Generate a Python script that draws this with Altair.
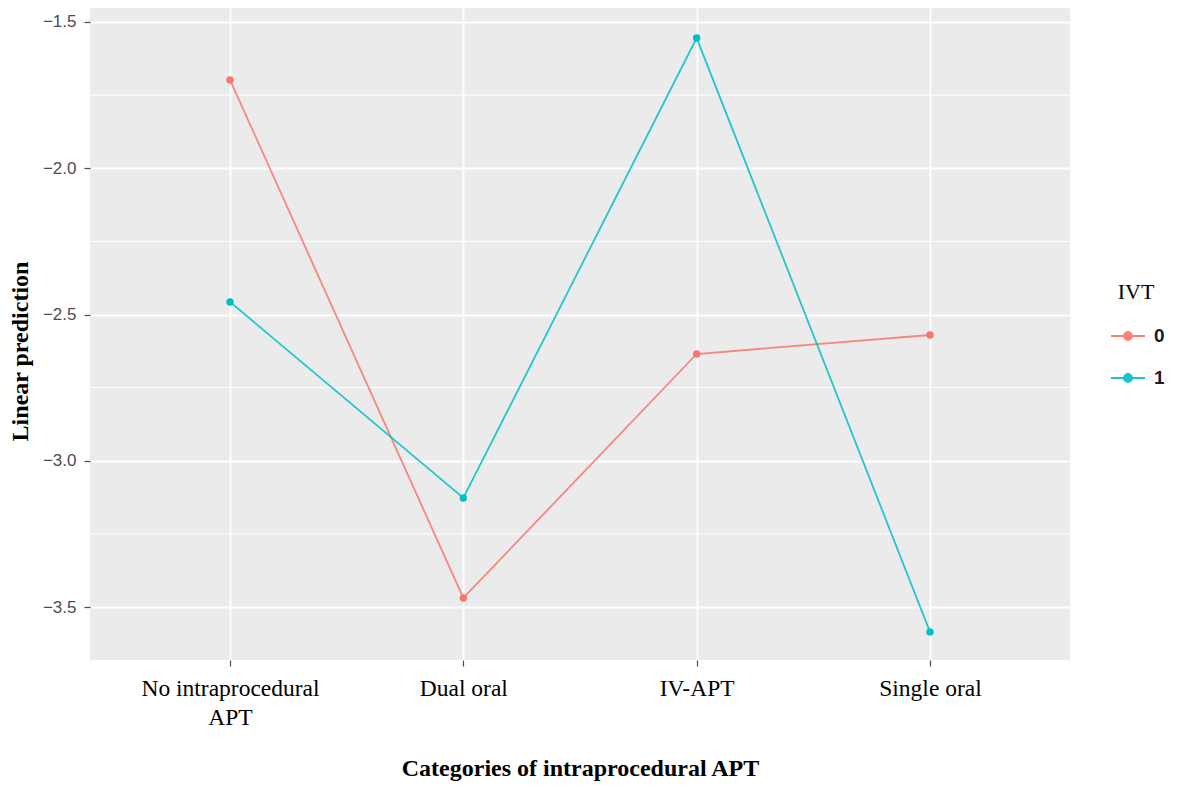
import altair as alt
import pandas as pd

categories = ["No intraprocedural APT", "Dual oral", "IV-APT", "Single oral"]
ivt0 = [-1.698, -3.469, -2.635, -2.570]
ivt1 = [-2.457, -3.127, -1.555, -3.585]
groups = ["0", "1"]
colors = ["#F8766D", "#00BFC4"]
major_ticks = [-3.5, -3.0, -2.5, -2.0, -1.5]
minor_ticks = [-3.25, -2.75, -2.25, -1.75]

rows = []
for c, a, b in zip(categories, ivt0, ivt1):
    rows.append({"cat": c, "IVT": groups[0], "val": a})
    rows.append({"cat": c, "IVT": groups[1], "val": b})
df = pd.DataFrame(rows)
minor_df = pd.DataFrame({"m": minor_ticks})

yscale = alt.Scale(domain=[-3.681, -1.442], nice=False, zero=False)
xscale = alt.Scale(domain=categories, type="point", padding=0.6)

legend_path = ("M-0.85,0 L0.85,0 "
               "M-0.2,0 A0.2,0.2 0 1,1 0.2,0 A0.2,0.2 0 1,1 -0.2,0 Z")

color = alt.Color(
    "IVT:N",
    scale=alt.Scale(domain=groups, range=colors),
    legend=alt.Legend(
        title="IVT", orient="none", legendX=1017, legendY=277,
        symbolType=legend_path, symbolSize=1600, symbolStrokeWidth=1.8,
        symbolOpacity=0.9,
        titleFont="Liberation Serif", titleFontSize=22, titleFontWeight="normal",
        titleColor="#000000", titlePadding=11, titleAnchor="middle",
        labelFont="Liberation Sans", labelFontSize=19, labelFontWeight="bold",
        labelColor="#1a1a2e", labelOffset=5, rowPadding=11,
    ),
)

x_enc = alt.X(
    "cat:N", scale=xscale, sort=categories,
    axis=alt.Axis(
        title="Categories of intraprocedural APT", labelAngle=0,
        labelExpr="datum.label == 'No intraprocedural APT' ? ['No intraprocedural', 'APT'] : datum.label",
        labelFont="Liberation Serif", labelFontSize=23.5, labelColor="#000000",
        labelLineHeight=29, labelPadding=10, labelBaseline="top",
        tickSize=6, tickColor="#4d4d4d", tickWidth=1.2,
        domain=False, grid=True, gridColor="#ffffff", gridWidth=1.8,
        titleFont="Liberation Serif", titleFontSize=24, titleFontWeight="bold",
        titleColor="#000000", titlePadding=28,
    ),
)

y_enc = alt.Y(
    "val:Q", scale=yscale,
    axis=alt.Axis(
        title="Linear prediction", values=major_ticks, format=".1f",
        labelFont="Liberation Sans", labelFontSize=17, labelColor="#4d4d4d",
        labelPadding=8, tickSize=6, tickColor="#4d4d4d", tickWidth=1.2,
        domain=False, grid=True, gridColor="#ffffff", gridWidth=1.8,
        titleFont="Liberation Serif", titleFontSize=24, titleFontWeight="bold",
        titleColor="#000000", titlePadding=10, titleY=346,
    ),
)

minor = alt.Chart(minor_df).mark_rule(color="#ffffff", strokeWidth=1).encode(
    y=alt.Y("m:Q", scale=yscale)
)

lines = alt.Chart(df).mark_line(strokeWidth=1.8, opacity=0.85).encode(
    x=x_enc, y=y_enc, color=color, detail="IVT:N"
)
points = alt.Chart(df).mark_point(filled=True, size=55, opacity=1).encode(
    x=x_enc, y=y_enc, color=color
)

chart = alt.layer(minor, lines, points).properties(
    width=980, height=655,
    autosize=alt.AutoSizeParams(type="none"),
    padding={"left": 82, "top": -3, "right": 100, "bottom": 121},
).configure_view(fill="#EBEBEB", stroke=None)

chart.save("out.html", embed_options={"renderer": "svg", "actions": False})
